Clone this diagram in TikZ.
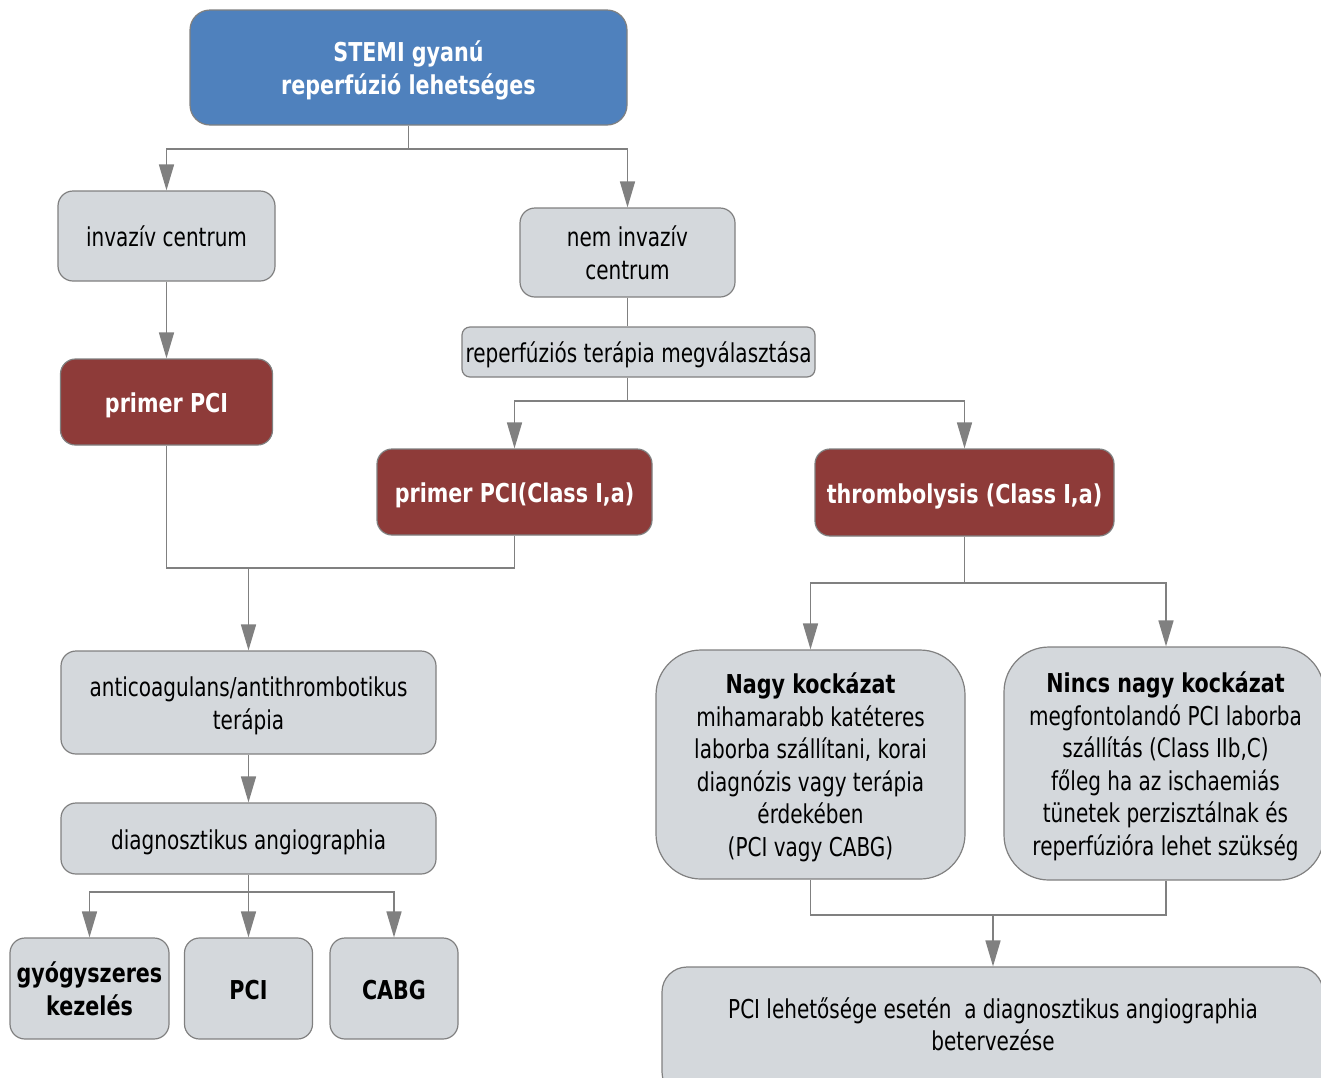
\documentclass[tikz,border=0pt]{standalone}
\usepackage{fontspec}
\setmainfont{DejaVu Sans}[FakeStretch=0.77, BoldFeatures={FakeStretch=0.795}]
\usetikzlibrary{arrows.meta}
\definecolor{boxgray}{HTML}{D4D8DC}
\definecolor{edgegray}{HTML}{808080}
\definecolor{headblue}{HTML}{4F81BD}
\definecolor{darkred}{HTML}{8E3B39}
% centred lines of text, set a little below the middle of their box
\newcommand{\lowered}[1]{\raisebox{-4pt}[\height][\depth]{\begin{tabular}{@{}c@{}}#1\end{tabular}}}
\begin{document}
\begin{tikzpicture}[x=1pt,y=-1pt,
  base/.style={draw=edgegray, line width=1.2pt, rounded corners=15pt,
    inner sep=0pt, font=\fontsize{26}{32.5}\selectfont},
  gbox/.style={base, fill=boxgray, text=black},
  bbox/.style={base, fill=boxgray, text=black, font=\fontsize{26}{32.5}\selectfont\bfseries},
  rbox/.style={base, fill=darkred, text=white, font=\fontsize{26}{32.5}\selectfont\bfseries},
  tbox/.style={base, fill=headblue, text=white, rounded corners=20pt, font=\fontsize{26}{32.5}\selectfont\bfseries},
  link/.style={draw=edgegray, line width=1.6pt},
  arr/.style={link, -{Triangle[length=26pt,width=15pt]}}
]
\useasboundingbox (0,0) rectangle (1321,1077);

% top of the tree
\node[tbox, minimum width=437pt, minimum height=115pt] (stemi) at (408.5,67.5) {\lowered{STEMI gyanú\\reperfúzió lehetséges}};

% left branch: invasive centre
\node[gbox, minimum width=217pt, minimum height=90pt] (inv) at (166.5,236) {\lowered{invazív centrum}};
\node[rbox, minimum width=212pt, minimum height=86pt] (ppci) at (166.5,402) {\lowered{primer PCI}};

% right branch: non-invasive centre
\node[gbox, minimum width=215pt, minimum height=89pt] (noninv) at (627.5,252.5) {\lowered{nem invazív\\centrum}};
\node[gbox, minimum width=353pt, minimum height=50pt, rounded corners=8pt] (choice) at (638.5,352) {\lowered{reperfúziós terápia megválasztása}};
\node[rbox, minimum width=275pt, minimum height=86pt] (ppcic) at (514.5,492) {\lowered{primer PCI(Class I,a)}};
\node[rbox, minimum width=299pt, minimum height=87pt] (thromb) at (964.5,492.5) {\lowered{thrombolysis (Class I,a)}};

% after primary PCI
\node[gbox, minimum width=375pt, minimum height=103pt] (anti) at (248.5,702.5) {\lowered{anticoagulans/antithrombotikus\\terápia}};
\node[gbox, minimum width=375pt, minimum height=71pt] (diag) at (248.5,838.5) {\lowered{diagnosztikus angiographia}};
\node[bbox, minimum width=159pt, minimum height=101pt] (drug) at (89.5,988.5) {\lowered{gyógyszeres\\kezelés}};
\node[bbox, minimum width=128pt, minimum height=101pt] (pci) at (248.5,988.5) {\lowered{PCI}};
\node[bbox, minimum width=128pt, minimum height=101pt] (cabg) at (394,988.5) {\lowered{CABG}};

% after thrombolysis
\node[gbox, minimum width=309pt, minimum height=229pt, rounded corners=45pt] (high) at (810.5,764.5) {\lowered{\textbf{Nagy kockázat}\\mihamarabb katéteres\\laborba szállítani, korai\\diagnózis vagy terápia\\érdekében\\(PCI vagy CABG)}};
\node[gbox, minimum width=320pt, minimum height=233pt, rounded corners=45pt] (nohigh) at (1164,763.5) {\lowered{\hspace*{3pt}\textbf{Nincs nagy kockázat}\\\hspace*{3pt}megfontolandó PCI laborba\\\hspace*{3pt}szállítás (Class IIb,C)\\\hspace*{3pt}főleg ha az ischaemiás\\\hspace*{3pt}tünetek perzisztálnak és\\\hspace*{3pt}reperfúzióra lehet szükség}};
\node[gbox, minimum width=661pt, minimum height=130pt, rounded corners=25pt] (plan) at (992.5,1032) {};
\node[font=\fontsize{26}{32.5}\selectfont, inner sep=0pt] (plantext) at (993,1024) {\lowered{PCI lehetősége esetén~ a diagnosztikus angiographia\\betervezése}};

% branch points
\coordinate (j1) at (408.5,149);
\coordinate (j2) at (627.5,401);
\coordinate (j3) at (248.5,568);
\coordinate (j4) at (248.5,892);
\coordinate (j5) at (964.5,583);
\coordinate (j6) at (993,915);

% connectors
\draw[link] (stemi.south) -- (j1);
\draw[arr] (j1) -| (inv.north);
\draw[arr] (j1) -| (noninv.north);
\draw[arr] (inv.south) -- (ppci.north);
\draw[link] (noninv.south) -- (noninv.south |- choice.north);
\draw[link] (noninv.south |- choice.south) -- (j2);
\draw[arr] (j2) -| (ppcic.north);
\draw[arr] (j2) -| (thromb.north);
\draw[link] (ppci.south) |- (j3);
\draw[link] (ppcic.south) |- (j3);
\draw[arr] (j3) -- (anti.north);
\draw[arr] (anti.south) -- (diag.north);
\draw[link] (diag.south) -- (j4);
\draw[arr] (j4) -| (drug.north);
\draw[arr] (j4) -- (pci.north);
\draw[arr] (j4) -| (cabg.north);
\draw[link] (thromb.south) -- (j5);
\draw[arr] (j5) -| (high.north);
\draw[arr] (j5) -| ([xshift=2pt]nohigh.north);
\draw[link] (high.south) |- (j6);
\draw[link] ([xshift=2pt]nohigh.south) |- (j6);
\draw[arr] (j6) -- (j6 |- plan.north);
\end{tikzpicture}
\end{document}
